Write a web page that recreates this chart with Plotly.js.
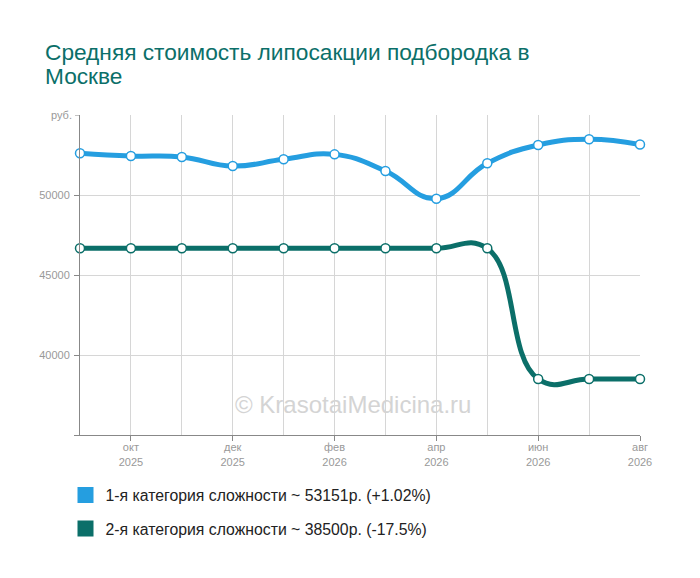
<!DOCTYPE html>
<html>
<head>
<meta charset="utf-8">
<script src="https://cdn.plot.ly/plotly-3.0.1.min.js"></script>
<style>html,body{margin:0;padding:0;background:#fff}#chart{width:700px;height:578px}</style>
</head>
<body>
<div id="chart"></div>
<script>
const titleLines = ["Средняя стоимость липосакции подбородка в", "Москве"];
const months = ["сен 2025","окт 2025","ноя 2025","дек 2025","янв 2026","фев 2026","мар 2026","апр 2026","май 2026","июн 2026","июл 2026","авг 2026"];
const tickIdx = [1,3,5,7,9,11];
const tickLabels = ["окт<br>2025","дек<br>2025","фев<br>2026","апр<br>2026","июн<br>2026","авг<br>2026"];
const cat1 = [52614,52440,52380,51810,52230,52540,51500,49770,51980,53125,53480,53151];
const cat2 = [46667,46667,46667,46667,46667,46667,46667,46667,46667,38500,38500,38500];
const names = ["1-я категория сложности ~ 53151р. (+1.02%)","2-я категория сложности ~ 38500р. (-17.5%)"];
const colors = ["#259ee0","#0b6f69"];
const yTicks = [35000,40000,45000,50000];
const yLabels = ["","40000","45000","50000"];

const xs = months.map((_, i) => i);
const series = [cat1, cat2];
const traces = [];
series.forEach((s, k) => {
  traces.push({
    x: xs, y: s, type: "scatter", mode: "lines+markers", cliponaxis: false,
    line: {shape: "spline", smoothing: 1.3, width: 5, color: colors[k]},
    marker: {size: 9, color: "#fff", line: {color: colors[k], width: 1.5}},
    showlegend: false, hoverinfo: "skip"
  });
});
series.forEach((s, k) => {
  traces.push({
    x: [null], y: [null], type: "scatter", mode: "markers", name: names[k], legendgroup: "g" + k,
    marker: {symbol: "square", size: 16, color: colors[k]},
    showlegend: true
  });
});

const py = px => (435 - px) / 320;
const titleAnn = titleLines.map((t, i) => ({
  text: t, xref: "paper", yref: "paper", x: (43 - 80) / 560, y: py(52 + i * 24),
  xanchor: "left", yanchor: "middle", showarrow: false,
  font: {size: 22.7, color: "#0b6f69", family: "Liberation Sans, Arial, sans-serif"}
}));

const layout = {
  width: 700, height: 578,
  margin: {l: 80, r: 60, t: 115, b: 143},
  paper_bgcolor: "#fff", plot_bgcolor: "#fff",
  font: {family: "Liberation Sans, Arial, sans-serif"},
  xaxis: {
    range: [0, 11], tickmode: "array", tickvals: tickIdx, ticktext: tickLabels,
    showgrid: true, gridcolor: "#d6d6d6", gridwidth: 1,
    minor: {tickmode: "array", tickvals: [2,4,6,8,10], showgrid: true, gridcolor: "#d6d6d6", ticks: ""},
    showline: true, linecolor: "#888", linewidth: 1,
    ticks: "outside", ticklen: 5, tickcolor: "#888", ticklabelstandoff: -3,
    tickfont: {size: 11, color: "#999"}, zeroline: false, fixedrange: true
  },
  yaxis: {
    range: [35000, 55000], tickmode: "array", tickvals: yTicks, ticktext: yLabels,
    showgrid: true, gridcolor: "#d6d6d6", gridwidth: 1,
    showline: true, linecolor: "#888", linewidth: 1,
    ticks: "outside", ticklen: 5, tickcolor: "#888", ticklabelstandoff: 2,
    tickfont: {size: 11, color: "#999"}, zeroline: false, fixedrange: true
  },
  legend: {x: -14.5/560, xanchor: "left", y: -0.135, yanchor: "top", orientation: "v",
           font: {size: 15.8, color: "#222"}, tracegroupgap: 10, itemsizing: "trace", bgcolor: "rgba(0,0,0,0)"},
  annotations: titleAnn.concat([
    {text: "руб.", xref: "paper", yref: "y", x: 0, y: 55000, xanchor: "right", yanchor: "middle", xshift: -6,
     showarrow: false, font: {size: 11, color: "#999"}},
    {text: "© KrasotaiMedicina.ru", xref: "paper", yref: "paper", x: (353-80)/560, y: py(404),
     xanchor: "center", yanchor: "middle", showarrow: false, font: {size: 24, color: "#d4d4d4"}}
  ]),
  shapes: [
    {type: "line", xref: "paper", yref: "y", x0: -5/560, x1: 0, y0: 55000, y1: 55000, line: {color: "#888", width: 1}}
  ]
};
Plotly.newPlot("chart", traces, layout, {displayModeBar: false, staticPlot: true});
</script>
</body>
</html>
